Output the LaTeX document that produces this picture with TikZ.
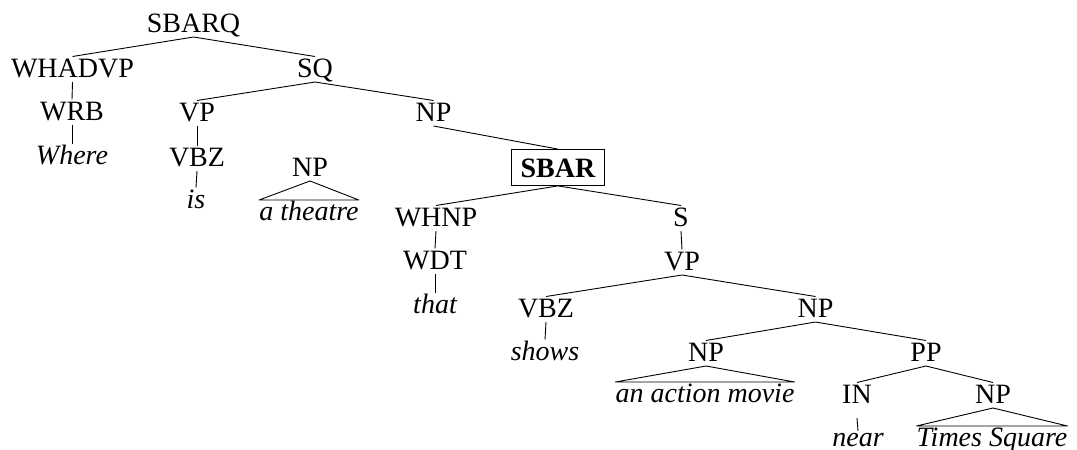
\documentclass[tikz,border=0pt]{standalone}
\usepackage{fontspec}
\setmainfont{Liberation Serif}
\begin{document}
\begin{tikzpicture}[x=1pt,y=-1pt,
  lab/.style={inner sep=0pt, anchor=base, text height=19pt, text depth=0pt, font=\fontsize{28}{34}\selectfont},
  wrd/.style={lab, font=\fontsize{28}{34}\selectfont\itshape},
  boxed/.style={draw, line width=0.8pt, anchor=base, inner xsep=9.5pt, inner ysep=8.5pt, text height=19pt, text depth=0pt, font=\fontsize{28}{34}\selectfont\bfseries},
  br/.style={line width=0.9pt}]
\useasboundingbox (0,0) rectangle (1077,450);
% nodes
\node[lab] (sbarq) at (193.5,32) {SBARQ};
\node[lab] (whadvp) at (72.5,77) {WHADVP};
\node[lab] (sq) at (315,77) {SQ};
\node[lab] (wrb) at (72,120) {WRB};
\node[wrd] (where) at (72,164) {Where};
\node[lab] (vp1) at (197,121) {VP};
\node[lab] (vbz1) at (197,166) {VBZ};
\node[wrd] (is) at (196,208) {is};
\node[lab] (np1) at (433.5,121) {NP};
\node[lab] (np2) at (310,176) {NP};
\node[wrd] (theatre) at (309,220) {a theatre};
\node[boxed] (sbar) at (558,177) {SBAR};
\node[lab] (whnp) at (436,226) {WHNP};
\node[lab] (s) at (681,226) {S};
\node[lab] (wdt) at (435,269) {WDT};
\node[wrd] (that) at (435,313) {that};
\node[lab] (vp2) at (682,270) {VP};
\node[lab] (vbz2) at (546,317) {VBZ};
\node[wrd] (shows) at (545,360) {shows};
\node[lab] (np3) at (815.5,317) {NP};
\node[lab] (np4) at (706,361) {NP};
\node[wrd] (action) at (705,402) {an action movie};
\node[lab] (pp) at (926,361) {PP};
\node[lab] (in) at (857,403) {IN};
\node[wrd] (near) at (858,446) {near};
\node[lab] (np5) at (993,403) {NP};
\node[wrd] (ts) at (992,446) {Times Square};
% edges
\foreach \p/\c in {sbarq/whadvp, sbarq/sq, whadvp/wrb, wrb/where, sq/vp1, sq/np1,
  vp1/vbz1, vbz1/is, whnp/wdt, wdt/that, s/vp2, vp2/vbz2, vp2/np3, vbz2/shows,
  np3/np4, np3/pp, pp/in, pp/np5}
  \draw[br] ([yshift=-5pt]\p.base) -- ([yshift=20.5pt]\c.base);
\draw[br] ([yshift=-15pt]in.base) -- ([yshift=15pt]near.base);
\draw[br] ([yshift=-5pt]np1.base) -- (sbar.north);
\draw[br] (sbar.south) -- ([yshift=20.5pt]whnp.base);
\draw[br] (sbar.south) -- ([yshift=20.5pt]s.base);
% triangles
\foreach \p/\c in {np2/theatre, np4/action, np5/ts}
  \draw[br, line join=round] ([yshift=-5pt]\p.base) -- ([yshift=20pt]\c.base west) -- ([yshift=20pt]\c.base east) -- cycle;
\end{tikzpicture}
\end{document}
